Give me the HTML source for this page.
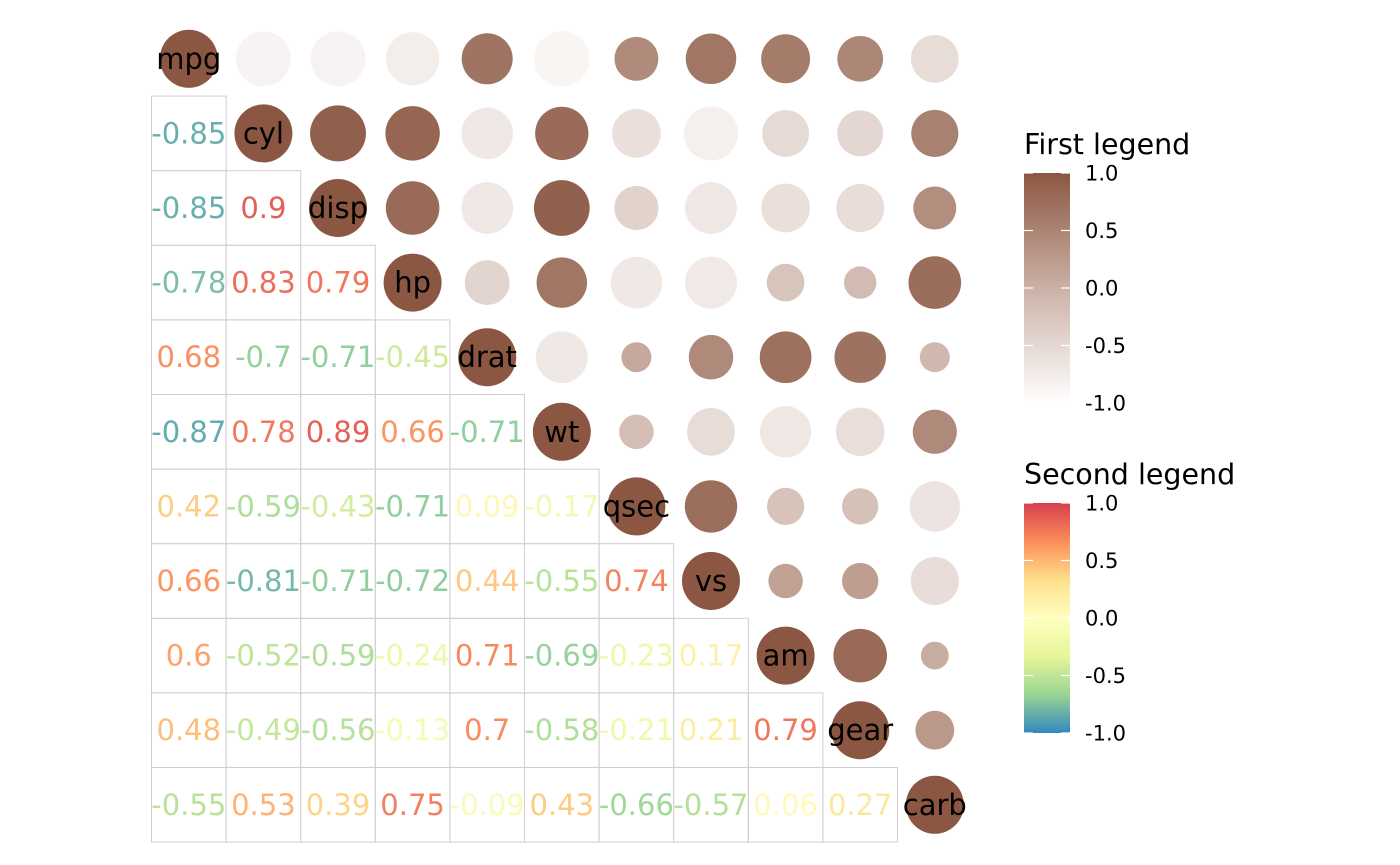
<!DOCTYPE html>
<html><head><meta charset="utf-8"><style>
html,body{margin:0;padding:0;background:#fff}
svg{display:block;font-family:"DejaVu Sans","Liberation Sans",sans-serif}
</style></head><body>
<svg id="chart" width="1400" height="865" viewBox="0 0 1400 865" xmlns="http://www.w3.org/2000/svg">
<defs>
<linearGradient id="g1" x1="0" y1="1" x2="0" y2="0">
<stop offset="0" stop-color="#ffffff"/><stop offset="0.5" stop-color="#cbb1a6"/><stop offset="1" stop-color="#8b5742"/>
</linearGradient>
<linearGradient id="g2" x1="0" y1="1" x2="0" y2="0">
<stop offset="0" stop-color="#3288bd"/><stop offset="0.1667" stop-color="#99d594"/><stop offset="0.3333" stop-color="#e6f598"/><stop offset="0.5" stop-color="#ffffbf"/><stop offset="0.6667" stop-color="#fee08b"/><stop offset="0.8333" stop-color="#fc8d59"/><stop offset="1" stop-color="#d53e4f"/>
</linearGradient>
</defs>
<g id="cells"></g>
<g id="legend1">
<text x="1024" y="154" font-size="28.5" fill="#000">First legend</text>
<rect x="1024" y="173" width="46" height="230" fill="url(#g1)"/>
</g>
<g id="legend2">
<text x="1024" y="484" font-size="28.5" fill="#000">Second legend</text>
<rect x="1024" y="503" width="46" height="230" fill="url(#g2)"/>
</g>
</svg>
<script>
const vars = ["mpg","cyl","disp","hp","drat","wt","qsec","vs","am","gear","carb"];
const corrRows = [
 [1,-0.85,-0.85,-0.78,0.68,-0.87,0.42,0.66,0.60,0.48,-0.55],
 [-0.85,1,0.90,0.83,-0.70,0.78,-0.59,-0.81,-0.52,-0.49,0.53],
 [-0.85,0.90,1,0.79,-0.71,0.89,-0.43,-0.71,-0.59,-0.56,0.39],
 [-0.78,0.83,0.79,1,-0.45,0.66,-0.71,-0.72,-0.24,-0.13,0.75],
 [0.68,-0.70,-0.71,-0.45,1,-0.71,0.09,0.44,0.71,0.70,-0.09],
 [-0.87,0.78,0.89,0.66,-0.71,1,-0.17,-0.55,-0.69,-0.58,0.43],
 [0.42,-0.59,-0.43,-0.71,0.09,-0.17,1,0.74,-0.23,-0.21,-0.66],
 [0.66,-0.81,-0.71,-0.72,0.44,-0.55,0.74,1,0.17,0.21,-0.57],
 [0.60,-0.52,-0.59,-0.24,0.71,-0.69,-0.23,0.17,1,0.79,0.06],
 [0.48,-0.49,-0.56,-0.13,0.70,-0.58,-0.21,0.21,0.79,1,0.27],
 [-0.55,0.53,0.39,0.75,-0.09,0.43,-0.66,-0.57,0.06,0.27,1]
];
const legendTicks = [1.0,0.5,0.0,-0.5,-1.0];
const tickLabels = ["1.0","0.5","0.0","-0.5","-1.0"];

const NS="http://www.w3.org/2000/svg";
const X0=151.5, Y0=21.5, CW=74.6;
const cx=c=>X0+CW*(c+0.5), cy=r=>Y0+CW*(r+0.5);
const rad=v=>9+20*Math.sqrt(Math.abs(v));
function lerp(a,b,t){return a.map((x,i)=>Math.round(x+(b[i]-x)*t));}
function hex(h){return [1,3,5].map(i=>parseInt(h.slice(i,i+2),16));}
function ramp(stops,v){const t=(v+1)/2*(stops.length-1);const i=Math.min(Math.floor(t),stops.length-2);const c=lerp(hex(stops[i]),hex(stops[i+1]),t-i);return `rgb(${c.join(',')})`;}
const brown=["#ffffff","#cbb1a6","#8b5742"];
const spec=["#3288bd","#99d594","#e6f598","#ffffbf","#fee08b","#fc8d59","#d53e4f"];
function fmt(v){return String(Math.round(v*100)/100);}
const g=document.getElementById('cells');
function mk(t,a){const e=document.createElementNS(NS,t);for(const k in a)e.setAttribute(k,a[k]);return e;}
for(let r=0;r<vars.length;r++){for(let c=0;c<vars.length;c++){
 if(r>c){
  const b=mk('rect',{x:X0+CW*c,y:Y0+CW*r,width:CW,height:CW,fill:'none',stroke:'#cfcfcf','stroke-width':1});
  
  
  g.appendChild(b);
 }
}}
for(let r=0;r<vars.length;r++){for(let c=0;c<vars.length;c++){const v=corrRows[r][c];
 if(c>=r){
  const ci=mk('circle',{cx:cx(c),cy:cy(r),r:rad(v),fill:ramp(brown,v)});
  
  
  g.appendChild(ci);
 }
 if(r===c){
  const t=mk('text',{x:cx(c),y:cy(r)+10,'text-anchor':'middle','font-size':29,fill:'#000'});
  t.textContent=vars[r];
  
  
  g.appendChild(t);
 } else if(r>c){
  const t=mk('text',{x:cx(c),y:cy(r)+10,'text-anchor':'middle','font-size':29,fill:ramp(spec,v),'fill-opacity':0.95});
  t.textContent=fmt(v);
  
  
  g.appendChild(t);
 }
}}
[[document.getElementById('legend1'),173],[document.getElementById('legend2'),503]].forEach(([lg,top])=>{
 legendTicks.forEach((v,i)=>{
  const y=top+(1-v)/2*230;
  [[1024,1033],[1061,1070]].forEach(([a,b])=>{const l=mk('line',{x1:a,x2:b,y1:y,y2:y,stroke:'#fff','stroke-width':1.2});
   
   
   lg.appendChild(l);});
  const t=mk('text',{x:1085,y:y+7.5,'font-size':21,fill:'#000'});
  t.textContent=tickLabels[i];
  
  
  lg.appendChild(t);
 });
});
</script>
</body></html>
